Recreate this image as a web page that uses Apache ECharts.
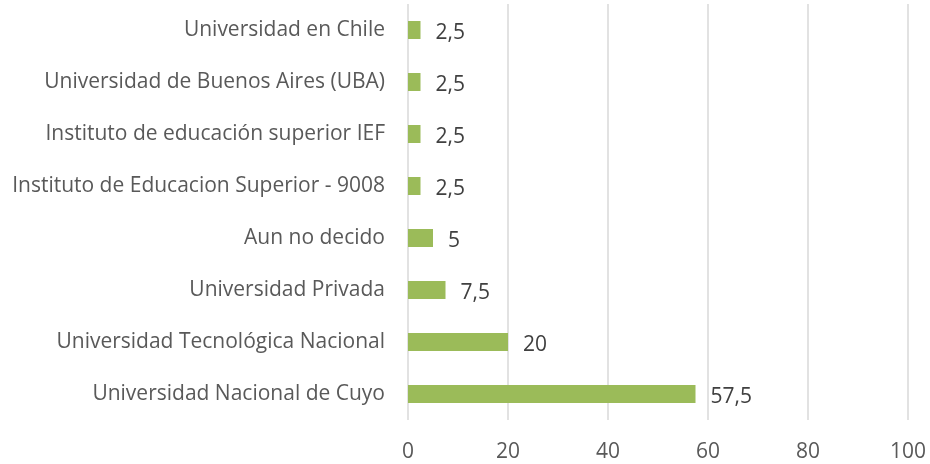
<!DOCTYPE html>
<html>
<head>
<meta charset="utf-8">
<script src="https://cdn.jsdelivr.net/npm/echarts@6/dist/echarts.min.js"></script>
<style>
    html, body {margin: 0; padding: 0; background: #fff;}
    #chart {width: 930px; height: 464px;}
</style>
</head>
<body>
<div id="chart"></div>
<script>
// categories from top to bottom as shown
var categories = [
    'Universidad en Chile',
    'Universidad de Buenos Aires (UBA)',
    'Instituto de educación superior IEF',
    'Instituto de Educacion Superior - 9008',
    'Aun no decido',
    'Universidad Privada',
    'Universidad Tecnológica Nacional',
    'Universidad Nacional de Cuyo'
];
var values = [2.5, 2.5, 2.5, 2.5, 5, 7.5, 20, 57.5];
var xTicks = [0, 20, 40, 60, 80, 100];

var fontName = 'Open Sans';

var myChart = echarts.init(document.getElementById('chart'));
var option = {
    animation: false,
    grid: {
        left: 408,
        right: 22,
        top: 4,
        bottom: 44
    },
    xAxis: {
        type: 'value',
        min: xTicks[0],
        max: xTicks[xTicks.length - 1],
        interval: 20,
        axisLine: {show: false},
        axisTick: {show: false},
        splitLine: {
            show: true,
            lineStyle: {color: '#D9D9D9', width: 1.5}
        },
        axisLabel: {
            color: '#595959',
            fontFamily: fontName,
            fontSize: 21,
            margin: 22
        }
    },
    yAxis: {
        type: 'category',
        inverse: true,
        data: categories,
        axisLine: {show: false},
        axisTick: {show: false},
        axisLabel: {
            color: '#595959',
            fontFamily: fontName,
            fontSize: 21,
            margin: 23,
            padding: [4, 0, 0, 0]
        }
    },
    series: [
        {
            type: 'bar',
            data: values,
            barWidth: 18,
            itemStyle: {color: '#9BBB59'},
            label: {
                show: true,
                position: 'right',
                distance: 15,
                offset: [0, 3],
                color: '#404040',
                fontFamily: fontName,
                fontSize: 21,
                formatter: function (p) {
                    return String(p.value).replace('.', ',');
                }
            }
        }
    ]
};
myChart.setOption(option);
</script>
</body>
</html>
